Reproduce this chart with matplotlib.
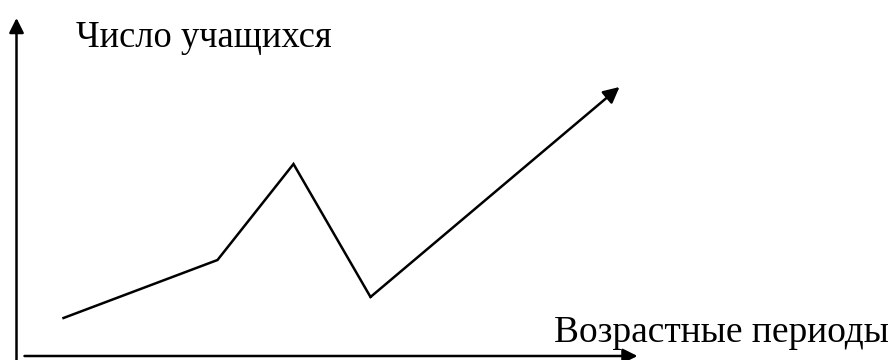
import matplotlib.pyplot as plt

# age periods (x) and number of students (y)
periods = [0.47, 2.01, 2.77, 3.54, 6.03]
students = [3.8, 9.6, 19.2, 5.9, 26.9]

y_label = "Число учащихся"
x_label = "Возрастные периоды"

plt.rcParams['font.family'] = ['Liberation Serif', 'DejaVu Serif']

fig = plt.figure(figsize=(8.91, 3.6), dpi=100)
ax = fig.add_axes([0, 0, 1, 1])
ax.set_xlim(-0.165, 8.745)
ax.set_ylim(-0.4, 35.6)
ax.axis("off")

# axes arrows
ax.annotate("", xy=(0, 33.8), xytext=(0, -0.4),
            arrowprops=dict(arrowstyle="-|>", color="black", lw=1.8,
                            mutation_scale=22, shrinkA=0, shrinkB=0))
ax.annotate("", xy=(6.21, 0), xytext=(0.08, 0),
            arrowprops=dict(arrowstyle="-|>", color="black", lw=1.8,
                            mutation_scale=22, shrinkA=0, shrinkB=0))

# the broken line with an arrow at its end
ax.plot(periods[:-1], students[:-1], color="black", lw=1.8, solid_joinstyle="miter")
ax.annotate("", xy=(periods[-1], students[-1]), xytext=(periods[-2], students[-2]),
            arrowprops=dict(arrowstyle="-|>", color="black", lw=1.8,
                            mutation_scale=24, shrinkA=0, shrinkB=0))

ax.text(0.59, 30.9, y_label, fontsize=26.3, ha="left", va="baseline")
ax.text(5.37, 1.4, x_label, fontsize=27, ha="left", va="baseline")

fig.savefig("out.png", dpi=100)
